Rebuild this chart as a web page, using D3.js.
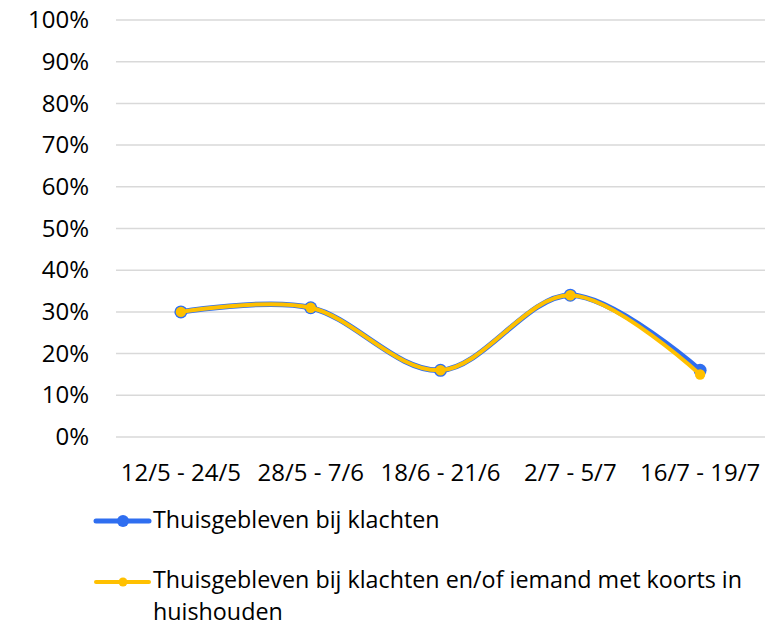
<!DOCTYPE html>
<html>
<head>
<meta charset="utf-8">
<script src="https://cdn.jsdelivr.net/npm/d3@7"></script>
<style>
  body { margin: 0; background: #fff; }
  svg { font-family: 'Open Sans', sans-serif; }
</style>
</head>
<body>
<svg width="782" height="627"></svg>
<script>
// data
var categories = ['12/5 - 24/5', '28/5 - 7/6', '18/6 - 21/6', '2/7 - 5/7', '16/7 - 19/7'];
var klachten = [30, 31, 16, 34, 16];
var klachtenKoorts = [30, 31, 16, 34, 15];
var yTicks = [0, 10, 20, 30, 40, 50, 60, 70, 80, 90, 100];
var seriesNames = ['Thuisgebleven bij klachten', 'Thuisgebleven bij klachten en/of iemand met koorts in huishouden'];

var svg = d3.select('svg');

var plotLeft = 116, plotRight = 765, plotTop = 20, plotBottom = 437;
var blue = '#2f6ef0', yellow = '#ffc000';

var xScale = d3.scaleBand()
    .domain(categories)
    .range([plotLeft, plotRight]);

var yScale = d3.scaleLinear()
    .domain([0, 100])
    .range([plotBottom, plotTop]);

// gridlines
svg.append('g')
    .selectAll('line')
    .data(yTicks)
    .enter()
    .append('line')
    .attr('x1', plotLeft)
    .attr('x2', plotRight)
    .attr('y1', d => yScale(d))
    .attr('y2', d => yScale(d))
    .attr('stroke', '#d9d9d9')
    .attr('stroke-width', 1.5);

// y axis
var yAxis = d3.axisLeft(yScale)
    .tickValues(yTicks)
    .tickFormat(d => d + '%')
    .tickSize(0)
    .tickPadding(0);

var yg = svg.append('g')
    .attr('transform', 'translate(89,0)')
    .call(yAxis);
yg.select('.domain').remove();
yg.selectAll('text')
    .style('font-family', 'Open Sans')
    .style('font-size', '24px')
    .attr('fill', '#000');

// x axis
var xAxis = d3.axisBottom(xScale).tickSize(0).tickPadding(0);
var xg = svg.append('g')
    .attr('transform', 'translate(0,' + (plotBottom + 27) + ')')
    .call(xAxis);
xg.select('.domain').remove();
xg.selectAll('text')
    .style('font-family', 'Open Sans')
    .style('font-size', '24px')
    .attr('fill', '#000');

var cx = d => xScale(d) + xScale.bandwidth() / 2;

var line = d3.line()
    .x((d, i) => cx(categories[i]))
    .y(d => yScale(d))
    .curve(d3.curveCardinal.tension(0));

// blue series
svg.append('path')
    .attr('d', line(klachten))
    .attr('fill', 'none')
    .attr('stroke', blue)
    .attr('stroke-width', 5.5);

svg.append('g')
    .selectAll('circle')
    .data(klachten)
    .enter()
    .append('circle')
    .attr('cx', (d, i) => cx(categories[i]))
    .attr('cy', d => yScale(d))
    .attr('r', 6.5)
    .attr('fill', blue);

// yellow series
svg.append('path')
    .attr('d', line(klachtenKoorts))
    .attr('fill', 'none')
    .attr('stroke', yellow)
    .attr('stroke-width', 4);

svg.append('g')
    .selectAll('circle')
    .data(klachtenKoorts)
    .enter()
    .append('circle')
    .attr('cx', (d, i) => cx(categories[i]))
    .attr('cy', d => yScale(d))
    .attr('r', 5.2)
    .attr('fill', yellow);

// legend
var legendY = [521, 582];
var legendColors = [blue, yellow];
var legendWidths = [5, 4];

var legend = svg.append('g');
legendColors.forEach(function(c, i) {
    legend.append('line')
        .attr('x1', 96).attr('x2', 149)
        .attr('y1', legendY[i]).attr('y2', legendY[i])
        .attr('stroke', c)
        .attr('stroke-width', legendWidths[i])
        .attr('stroke-linecap', 'round');
    legend.append('circle')
        .attr('cx', 123).attr('cy', legendY[i])
        .attr('r', i === 0 ? 6 : 4.5)
        .attr('fill', c);
});

legend.append('text')
    .attr('x', 153).attr('y', 528)
    .style('font-size', '23.3px')
    .text(seriesNames[0]);

var t2 = legend.append('text')
    .attr('x', 153).attr('y', 588)
    .style('font-size', '23.3px');
t2.append('tspan').text('Thuisgebleven bij klachten en/of iemand met koorts in');
t2.append('tspan').attr('x', 153).attr('dy', 32).text('huishouden');
</script>
</body>
</html>
